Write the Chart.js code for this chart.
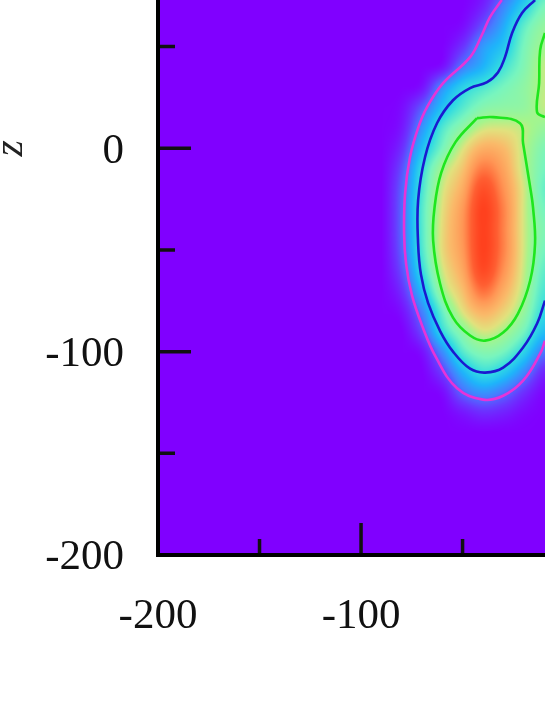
<!DOCTYPE html>
<html>
<head>
<meta charset="utf-8">
<title>z map</title>
<script src="https://cdn.jsdelivr.net/npm/chart.js@4"></script>
<style>
  body { margin: 0; background: #fff; }
  canvas { display: block; }
</style>
</head>
<body>
<canvas id="chart" width="545" height="705"></canvas>
<script>
const xTicks = [-200, -150, -100, -50];
const yTicks = [50, 0, -50, -100, -150, -200];
const labelledTicks = [0, -100, -200];

// heat values, one row per heatY, one column per heatX
const heatX = [-90, -80, -70, -60, -50, -40, -30, -20, -10];
const heatY = [80, 70, 60, 50, 40, 30, 20, 10, 0, -10, -20, -30, -40, -50, -60, -70, -80, -90, -100, -110, -120, -130, -140];
const heatRows = [
  [0, 0, 0, 0, 0, .03, .12, .28, .42],
  [0, 0, 0, 0, 0, .06, .21, .36, .50],
  [0, 0, 0, 0, .02, .14, .28, .46, .56],
  [0, 0, 0, 0, .09, .25, .34, .50, .59],
  [0, 0, 0, .03, .20, .30, .42, .52, .62],
  [0, 0, .03, .23, .37, .44, .50, .55, .62],
  [0, .02, .15, .33, .45, .53, .55, .56, .62],
  [0, .04, .24, .44, .55, .63, .64, .62, .57],
  [0, .08, .32, .50, .64, .74, .72, .62, .52],
  [0, .13, .40, .59, .70, .85, .77, .62, .50],
  [0, .16, .43, .63, .75, .95, .81, .64, .48],
  [0, .17, .45, .65, .79, 1, .84, .64, .50],
  [0, .17, .45, .66, .80, 1, .84, .64, .52],
  [0, .16, .44, .66, .79, 1, .84, .64, .50],
  [0, .13, .40, .63, .76, .97, .81, .63, .47],
  [0, .08, .32, .58, .71, .87, .75, .61, .44],
  [0, .03, .21, .48, .65, .74, .68, .57, .40],
  [0, 0, .13, .40, .55, .64, .60, .50, .33],
  [0, 0, .03, .23, .45, .53, .50, .38, .20],
  [0, 0, 0, .11, .30, .41, .36, .23, .07],
  [0, 0, 0, .02, .17, .24, .19, .09, .01],
  [0, 0, 0, 0, .04, .08, .06, .02, 0],
  [0, 0, 0, 0, 0, 0, 0, 0, 0]
];

const pinkContour = [[-30.7, 72.9], [-36.5, 64.5], [-40.5, 55.7], [-46.3, 44.8], [-59.6, 32], [-67.5, 20.2], [-71.9, 9.9], [-75.9, -4.4], [-78.3, -22.2], [-78.8, -41.9], [-77.8, -57], [-75, -72], [-70, -87], [-63, -103], [-52.7, -118], [-39.9, -123.6], [-30, -121.7], [-20.2, -114.3], [-11.8, -101], [-9.4, -94.6]];
const blueContour = [[-14.3, 72.9], [-20.7, 66.5], [-25.6, 56.7], [-29.1, 44.8], [-32.5, 37.4], [-37.9, 32.5], [-46.3, 29.6], [-54.7, 23.6], [-62.6, 12.3], [-68.5, -4.4], [-71.9, -25.6], [-71.9, -46.8], [-70.5, -62], [-67, -76], [-61, -90], [-54.7, -100], [-46.3, -108.4], [-38.9, -110.3], [-30, -107.9], [-20.2, -98], [-13.3, -86.2], [-9.4, -74.9]];
const greenContour = [[-42.9, 14.8], [-35, 15.3], [-21.7, 12.3], [-20.2, 2.5], [-16.7, -19.2], [-15.3, -29.1], [-14.3, -46.8], [-16.7, -65], [-22.7, -81.3], [-30, -90.6], [-38.9, -94.6], [-46.3, -92.1], [-54.7, -83.3], [-61.1, -66.5], [-64.5, -45.3], [-63.8, -29.1], [-60.5, -12], [-53.5, 3], [-42.9, 14.8]];
const greenContour2 = [[-9.4, 56.7], [-11.8, 48.3], [-12.3, 32], [-13.3, 17.7], [-9.4, 15.3]];

// value -> colour stops of the rainbow map
const paletteStops = [
  [0, 128, 0, 255],
  [0.1, 105, 55, 255],
  [0.2, 70, 125, 255],
  [0.3, 30, 180, 250],
  [0.4, 50, 220, 225],
  [0.5, 120, 245, 190],
  [0.6, 165, 245, 140],
  [0.65, 225, 225, 125],
  [0.72, 250, 185, 105],
  [0.8, 255, 150, 85],
  [0.9, 255, 95, 50],
  [1, 255, 65, 30]
];

function paletteColor(v) {
  for (let i = 1; i < paletteStops.length; i++) {
    const b = paletteStops[i];
    if (v <= b[0]) {
      const a = paletteStops[i - 1];
      const t = (v - a[0]) / (b[0] - a[0]);
      return [a[1] + (b[1] - a[1]) * t, a[2] + (b[2] - a[2]) * t, a[3] + (b[3] - a[3]) * t];
    }
  }
  return paletteStops[paletteStops.length - 1].slice(1);
}

function cubic(p0, p1, p2, p3, t) {
  return p1 + 0.5 * t * (p2 - p0 + t * (2 * p0 - 5 * p1 + 4 * p2 - p3 + t * (3 * (p1 - p2) + p3 - p0)));
}

function heatCell(row, col) {
  const r = Math.max(0, Math.min(heatY.length - 1, row));
  const c = Math.max(0, Math.min(heatX.length - 1, col));
  return heatRows[r][c];
}

// smooth shading between the cells of heatRows
function heatValue(x, y) {
  const col = (x - heatX[0]) / (heatX[1] - heatX[0]);
  const row = (y - heatY[0]) / (heatY[1] - heatY[0]);
  const c = Math.floor(col), r = Math.floor(row);
  const rowValues = [];
  for (let i = -1; i <= 2; i++) {
    rowValues.push(cubic(heatCell(r + i, c - 1), heatCell(r + i, c), heatCell(r + i, c + 1), heatCell(r + i, c + 2), col - c));
  }
  return Math.max(0, Math.min(1, cubic(rowValues[0], rowValues[1], rowValues[2], rowValues[3], row - r)));
}

const heatPlugin = {
  id: "heat",
  beforeDatasetsDraw(chart) {
    const { ctx, chartArea: area, scales } = chart;
    const w = Math.round(area.right - area.left), h = Math.round(area.bottom - area.top);
    const image = ctx.createImageData(w, h);
    for (let py = 0; py < h; py++) {
      const y = scales.y.getValueForPixel(area.top + py + 0.5);
      for (let px = 0; px < w; px++) {
        const x = scales.x.getValueForPixel(area.left + px + 0.5);
        const color = paletteColor(heatValue(x, y));
        const i = (py * w + px) * 4;
        image.data[i] = color[0];
        image.data[i + 1] = color[1];
        image.data[i + 2] = color[2];
        image.data[i + 3] = 255;
      }
    }
    ctx.putImageData(image, Math.round(area.left), Math.round(area.top));
  }
};

const tickPlugin = {
  id: "inwardTicks",
  afterDatasetsDraw(chart) {
    const { ctx, chartArea: area, scales } = chart;
    ctx.save();
    ctx.strokeStyle = "#111";
    ctx.lineWidth = 3.5;
    ctx.beginPath();
    xTicks.filter((t) => t !== -200).forEach((t) => {
      const len = t % 100 === 0 ? 32 : 16;
      const px = scales.x.getPixelForValue(t);
      ctx.moveTo(px, area.bottom);
      ctx.lineTo(px, area.bottom - len);
    });
    yTicks.filter((t) => t !== -200).forEach((t) => {
      const len = t % 100 === 0 ? 33 : 17;
      const py = scales.y.getPixelForValue(t);
      ctx.moveTo(area.left, py);
      ctx.lineTo(area.left + len, py);
    });
    ctx.stroke();

    // axis name sits beside 0, not at the centre of the axis
    ctx.translate(22, scales.y.getPixelForValue(0));
    ctx.rotate(-Math.PI / 2);
    ctx.font = "italic 42px 'Liberation Serif'";
    ctx.fillStyle = "#222";
    ctx.textAlign = "center";
    ctx.textBaseline = "alphabetic";
    ctx.fillText("z", 0, 0);
    ctx.restore();
  }
};

function contourDataset(points, color) {
  return {
    data: points.map((p) => ({ x: p[0], y: p[1] })),
    showLine: true,
    borderColor: color,
    borderWidth: 2.6,
    pointRadius: 0,
    tension: 0.4,
    fill: false
  };
}

new Chart(document.getElementById("chart"), {
  type: "scatter",
  data: {
    datasets: [
      contourDataset(pinkContour, "#e633d9"),
      contourDataset(blueContour, "#1a1ad0"),
      contourDataset(greenContour, "#1ee61e"),
      contourDataset(greenContour2, "#1ee61e")
    ]
  },
  plugins: [heatPlugin, tickPlugin],
  options: {
    responsive: false,
    animation: false,
    layout: { padding: 0 },
    plugins: {
      legend: { display: false },
      tooltip: { enabled: false }
    },
    scales: {
      x: {
        type: "linear",
        min: -200,
        max: -9.4,
        afterBuildTicks: (scale) => { scale.ticks = xTicks.map((value) => ({ value })); },
        afterFit: (scale) => { scale.height = 150; scale.paddingRight = 0; },
        grid: { drawOnChartArea: false, drawTicks: false },
        border: { display: true, color: "#000", width: 4, z: 1 },
        ticks: {
          autoSkip: false,
          maxRotation: 0,
          padding: 36,
          color: "#111",
          font: { family: "'Liberation Serif'", size: 43 },
          callback: (v) => (labelledTicks.includes(v) ? String(v) : "")
        }
      },
      y: {
        type: "linear",
        min: -200,
        max: 72.9,
        afterBuildTicks: (scale) => { scale.ticks = yTicks.map((value) => ({ value })); },
        afterFit: (scale) => { scale.width = 158; scale.paddingTop = 0; scale.paddingBottom = 0; },
        grid: { drawOnChartArea: false, drawTicks: false },
        border: { display: true, color: "#000", width: 4, z: 1 },
        ticks: {
          autoSkip: false,
          padding: 34,
          labelOffset: 3,
          color: "#111",
          font: { family: "'Liberation Serif'", size: 43 },
          callback: (v) => (labelledTicks.includes(v) ? String(v) : "")
        }
      }
    }
  }
});
</script>
</body>
</html>
